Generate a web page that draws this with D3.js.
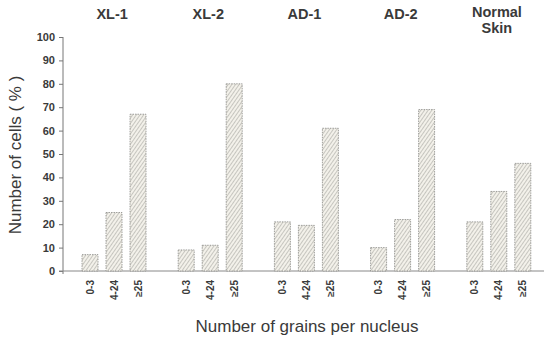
<!DOCTYPE html>
<html><head><meta charset="utf-8">
<script src="https://cdn.jsdelivr.net/npm/d3@7"></script>
<style>body{margin:0;background:#fff}svg{display:block}</style>
</head><body>
<svg id="c" width="544" height="339"></svg>
<script>
const groups = ["XL-1", "XL-2", "AD-1", "AD-2", "Normal Skin"];
const bins = ["0-3", "4-24", "≥25"];
const xl1 = [7, 25, 67];
const xl2 = [9, 11, 80];
const ad1 = [21, 19.5, 61];
const ad2 = [10, 22, 69];
const normal = [21, 34, 46];
const yTicks = [0, 10, 20, 30, 40, 50, 60, 70, 80, 90, 100];

const seriesValues = [xl1, xl2, ad1, ad2, normal];
const svg = d3.select("#c");
const defs = svg.append("defs");
const pat = defs.append("pattern").attr("id", "hatch").attr("patternUnits", "userSpaceOnUse")
  .attr("width", 3).attr("height", 3).attr("patternTransform", "rotate(35)");
pat.append("rect").attr("width", 3).attr("height", 3).attr("fill", "#f3f1ea");
pat.append("line").attr("x1", 0).attr("y1", 0).attr("x2", 0).attr("y2", 3)
  .attr("stroke", "#9a9a94").attr("stroke-width", 1);

const y = d3.scaleLinear().domain([0, 100]).range([271, 37]);
const xg = d3.scaleBand().domain(groups).range([66, 547]).padding(0);
const xb = d3.scaleBand().domain(bins).range([12, 84]).paddingInner(1/3).paddingOuter(1/6);

const txt = "#3a3a3a";
const ff = "Liberation Sans, Arial, sans-serif";
// y axis
const ax = svg.append("g").attr("transform", "translate(63,0)")
  .call(d3.axisLeft(y).tickValues(yTicks).tickSize(4).tickPadding(4));
ax.select(".domain").attr("stroke", "#777").attr("d", "M0,37V274");
ax.selectAll(".tick line").attr("stroke", "#777");
ax.selectAll(".tick text").attr("fill", txt).style("font-family", ff)
  .style("font-size", "11px").style("font-weight", "bold");
// baseline
svg.append("line").attr("x1", 59).attr("x2", 544).attr("y1", y(0)).attr("y2", y(0))
  .attr("stroke", "#888").attr("stroke-width", 1);

// bars
groups.forEach((g, gi) => {
  const gEl = svg.append("g").attr("transform", `translate(${xg(g)},0)`);
  gEl.selectAll("rect").data(bins.map((b, i) => ({b, v: seriesValues[gi][i]}))).join("rect")
    .attr("x", d => xb(d.b)).attr("width", xb.bandwidth())
    .attr("y", d => y(d.v)).attr("height", d => y(0) - y(d.v))
    .attr("fill", "url(#hatch)").attr("stroke", "#8a8a86").attr("stroke-width", 0.8)
    .attr("stroke-dasharray", "1.5,1");
  gEl.selectAll("text.bin").data(bins).join("text").attr("class", "bin")
    .attr("transform", d => `translate(${xb(d) + xb.bandwidth()/2 + 3.5},280) rotate(-90)`)
    .attr("text-anchor", "end").attr("fill", txt)
    .style("font-family", ff).style("font-size", "10px").style("font-weight", "bold")
    .text(d => d);
  // group label
  const parts = g.split(" ");
  const cx = xg.bandwidth()/2 - 2;
  const lbl = gEl.append("text").attr("text-anchor", "middle").attr("fill", txt)
    .style("font-family", ff).style("font-size", "14.5px").style("font-weight", "bold");
  if (parts.length === 1) {
    lbl.append("tspan").attr("x", cx).attr("y", 19).text(g);
  } else {
    lbl.append("tspan").attr("x", cx).attr("y", 17).text(parts[0]);
    lbl.append("tspan").attr("x", cx).attr("y", 33).text(parts[1]);
  }
});

// axis titles
svg.append("text").attr("transform", "translate(21,155) rotate(-90)").attr("text-anchor", "middle")
  .attr("fill", txt).style("font-family", ff).style("font-size", "17px")
  .text("Number of cells ( % )");
svg.append("text").attr("x", 307).attr("y", 332).attr("text-anchor", "middle")
  .attr("fill", txt).style("font-family", ff).style("font-size", "17px")
  .text("Number of  grains per nucleus");
</script>
</body></html>
